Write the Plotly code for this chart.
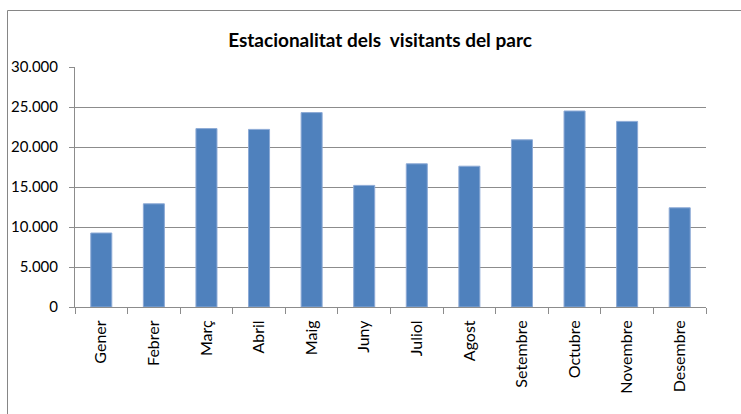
import plotly.graph_objects as go

months = ["Gener", "Febrer", "Març", "Abril", "Maig", "Juny", "Juliol",
          "Agost", "Setembre", "Octubre", "Novembre", "Desembre"]
visitors = [9250, 12900, 22300, 22200, 24300, 15200, 17900,
            17600, 20900, 24500, 23200, 12400]
title_text = "Estacionalitat dels\u00a0 visitants del parc"

W, H = 741, 414
ml, mr, mt, mb = 75, 35, 67, 107
pw, ph = W - ml - mr, H - mt - mb

fig = go.Figure(go.Bar(
    x=months, y=visitors,
    marker=dict(color="#4F81BD", line=dict(color="#8DAAD6", width=1)),
    width=0.4,
))

font_fam = "Lato, 'Open Sans', sans-serif"

fig.update_layout(
    width=W, height=H,
    margin=dict(l=ml, r=mr, t=mt, b=mb, autoexpand=False),
    paper_bgcolor="white", plot_bgcolor="white",
    separators=",.",
    showlegend=False,
    title=dict(text="<b>" + title_text + "</b>", x=380 / W, xanchor="center",
               y=1 - 40 / H, yanchor="middle",
               font=dict(family=font_fam, size=19, color="black")),
    font=dict(family=font_fam, size=15, color="black"),
    shapes=[dict(type="rect", xref="paper", yref="paper",
                 x0=(7.5 - ml) / pw, x1=(W + 20 - ml) / pw,
                 y0=-(H + 20 - mt - ph) / ph, y1=(H - 10.5 - mb) / ph,
                 line=dict(color="#868686", width=1), fillcolor="rgba(0,0,0,0)",
                 layer="below")],
)

fig.update_yaxes(range=[0, 30000], tickvals=[0, 5000, 10000, 15000, 20000, 25000, 30000],
                 tickformat=",d", showgrid=True, gridcolor="#8c8c8c", gridwidth=1,
                 showline=True, linecolor="#8c8c8c", linewidth=1,
                 ticks="outside", ticklen=5, tickcolor="#8c8c8c",
                 zeroline=False, tickfont=dict(size=15), ticklabelstandoff=8)
fig.update_xaxes(showline=True, linecolor="#8c8c8c", linewidth=1,
                 ticks="outside", ticklen=6, tickcolor="#8c8c8c", tickson="boundaries",
                 tickangle=-90, tickfont=dict(size=16), showgrid=False,
                 ticklabelstandoff=6)

fig.write_html("out.html",
               config={"displayModeBar": False},
               post_script="document.body.style.margin='0';"
                           "document.body.style.overflow='hidden';")
